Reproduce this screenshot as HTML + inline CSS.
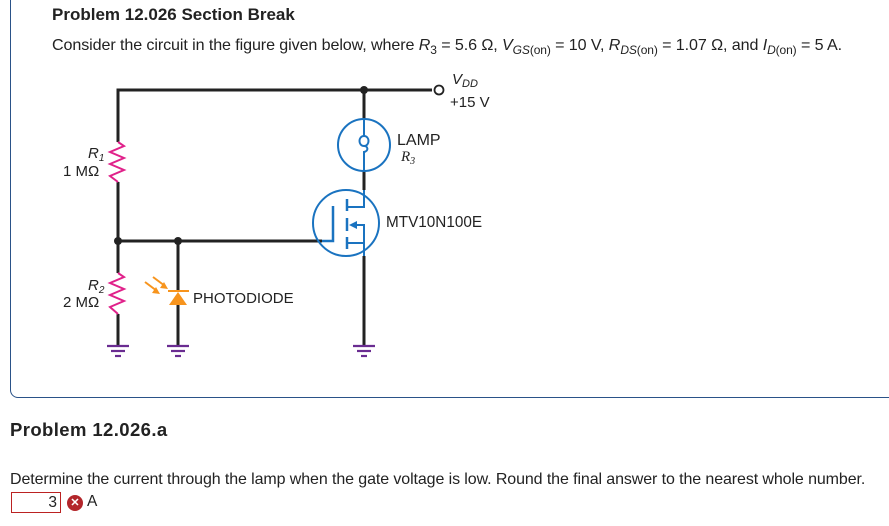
<!DOCTYPE html>
<html><head><style>
body{margin:0;width:889px;height:526px;background:#fff;font-family:"Liberation Sans",sans-serif;color:#222;position:relative;overflow:hidden}
.box{position:absolute;left:10px;top:-10px;width:900px;height:408px;border:1.5px solid #2a5288;border-radius:8px;box-sizing:border-box}
.t{position:absolute;white-space:nowrap}
</style></head><body>
<div class="box"></div>
<div class="t" style="left:52px;top:5px;font-weight:bold;font-size:17px">Problem 12.026 Section Break</div>
<div class="t" style="left:52px;top:36px;font-size:16.1px;letter-spacing:-0.1px">Consider the circuit in the figure given below, where <i>R</i><sub style="font-size:12px">3</sub> = 5.6 Ω, <i>V</i><sub style="font-size:12px"><i>GS</i>(on)</sub> = 10 V, <i>R</i><sub style="font-size:12px"><i>DS</i>(on)</sub> = 1.07 Ω, and <i>I</i><sub style="font-size:12px"><i>D</i>(on)</sub> = 5 A.</div>
<svg width="889" height="526" style="position:absolute;left:0;top:0" font-family="Liberation Sans" font-size="15">
<g stroke="#222" stroke-width="3" fill="none">
<polyline points="118,142 118,90 432,90"/>
<line x1="118" y1="182" x2="118" y2="273"/>
<line x1="118" y1="314" x2="118" y2="346"/>
<line x1="118" y1="241" x2="322" y2="241"/>
<line x1="178" y1="241" x2="178" y2="290"/>
<line x1="178" y1="305" x2="178" y2="346"/>
<line x1="364" y1="90" x2="364" y2="119"/>
<line x1="364" y1="171" x2="364" y2="190"/>
<line x1="364" y1="256" x2="364" y2="346"/>
</g>
<circle cx="439" cy="90" r="4.5" fill="#fff" stroke="#222" stroke-width="1.8"/>
<g fill="#222"><circle cx="364" cy="90" r="4"/><circle cx="118" cy="241" r="4"/><circle cx="178" cy="241" r="4"/></g>
<g stroke="#e0218a" stroke-width="2" fill="none">
<polyline points="118,142 124,146 110,152 124,158 110,164 124,170 110,176 118,182"/>
<polyline points="118,273 124,277 110,283 124,289 110,295 124,301 110,307 118,314"/>
</g>
<g stroke="#6a2c91" stroke-width="2.2">
<line x1="107" y1="346" x2="129" y2="346"/><line x1="111" y1="351" x2="125" y2="351"/><line x1="115" y1="356" x2="121" y2="356"/>
<line x1="167" y1="346" x2="189" y2="346"/><line x1="171" y1="351" x2="185" y2="351"/><line x1="175" y1="356" x2="181" y2="356"/>
<line x1="353" y1="346" x2="375" y2="346"/><line x1="357" y1="351" x2="371" y2="351"/><line x1="361" y1="356" x2="367" y2="356"/>
</g>
<g fill="#f7941d" stroke="#f7941d">
<line x1="168" y1="291" x2="189" y2="291" stroke-width="2"/>
<polygon points="178,292 169,305 187,305" stroke="none"/>
<line x1="153" y1="277" x2="165" y2="286" stroke-width="2"/>
<line x1="145" y1="282" x2="157" y2="291" stroke-width="2"/>
<polygon points="168,289 160,288 164,282" stroke="none"/>
<polygon points="160,294 152,293 156,287" stroke="none"/>
</g>
<g stroke="#1a73c0" stroke-width="2" fill="none">
<circle cx="364" cy="145" r="26"/>
<path d="M364,119 V136 c-6,0 -6,10 0,10 c6,0 6,-10 0,-10 M364,146 c4,0 5,5 0,6 V171" />
<circle cx="346" cy="223" r="33"/>
<polyline points="322,241 333,241 333,206" stroke-width="2.5"/>
<line x1="347" y1="199" x2="347" y2="211" stroke-width="2.5"/>
<line x1="347" y1="218" x2="347" y2="231" stroke-width="2.5"/>
<line x1="347" y1="237" x2="347" y2="249" stroke-width="2.5"/>
<polyline points="347,207 364,207 364,190"/>
<polyline points="352,225 364,225 364,256"/>
<line x1="347" y1="243" x2="364" y2="243"/>
</g>
<polygon points="349,225 357,221 357,229" fill="#1a73c0"/>
<g fill="#222">
<text x="452" y="84" font-style="italic">V<tspan font-size="11" dy="3">DD</tspan></text>
<text x="450" y="107">+15 V</text>
<text x="397" y="145" font-size="16">LAMP</text>
<text x="401" y="161" font-family="Liberation Serif" font-style="italic">R<tspan font-size="10" dy="3">3</tspan></text>
<text x="386" y="227" font-size="15.3">MTV10N100E</text>
<text x="193" y="303" font-size="15">PHOTODIODE</text>
<text x="88" y="158" font-style="italic">R<tspan font-size="10" dy="3">1</tspan></text>
<text x="63" y="176">1 MΩ</text>
<text x="88" y="290" font-style="italic">R<tspan font-size="10" dy="3">2</tspan></text>
<text x="63" y="307">2 MΩ</text>
</g>
</svg>
<div class="t" style="left:10px;top:419px;font-weight:bold;font-size:18.5px;letter-spacing:0.4px">Problem 12.026.a</div>
<div class="t" style="left:10px;top:471px;font-size:16px;letter-spacing:-0.1px">Determine the current through the lamp when the gate voltage is low. Round the final answer to the nearest whole number.</div>
<div class="t" style="left:11px;top:492px;width:50px;height:21px;border:1px solid #b22;box-sizing:border-box;text-align:right;padding-right:3px;font-size:15.5px;line-height:19px">3</div>
<div class="t" style="left:67px;top:495px;width:16px;height:16px;border-radius:50%;background:#b3262b;color:#fff;font-size:11px;font-weight:bold;text-align:center;line-height:16px">✕</div>
<div class="t" style="left:87px;top:493px;font-size:15.5px">A</div>
</body></html>
